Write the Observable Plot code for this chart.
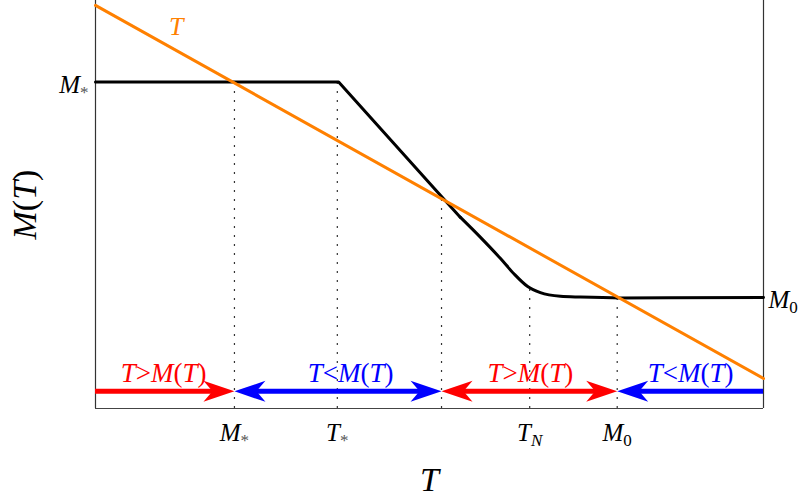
<!DOCTYPE html>
<html>
<head>
<meta charset="utf-8">
<script src="https://cdn.jsdelivr.net/npm/d3@7"></script>
<script src="https://cdn.jsdelivr.net/npm/@observablehq/plot@0.6"></script>
<style>
  body { margin: 0; background: white; }
</style>
</head>
<body>
<div id="chart"></div>
<script>
// ---- data (schematic units) ----
const keyX      = [2.08, 3.62, 5.18, 6.50, 7.81];      // M*, T*, crossing, T_N, M0
const keyLabels = ["M_*", "T_*", "", "T_N", "M_0"];
const keyTop    = [8.00, 8.00, 5.14, 3.00, 2.72];       // where each dotted guide stops

const curveX = [0, 3.64, 5.19, 5.46, 5.76, 6.06, 6.26, 6.47, 6.66, 6.96, 7.26, 7.86, 10];
const curveY = [8.00, 8.00, 5.18, 4.69, 4.20, 3.68, 3.31, 2.99, 2.84, 2.75, 2.73, 2.71, 2.72];

const lineX = [0, 10];           // the orange "T" line
const lineY = [9.88, 0.735];

const arrowY = 0.42;
const segStart = [0, 2.08, 5.18, 7.81];
const segEnd   = [2.08, 5.18, 7.81, 10];
const segKind  = ["gt", "lt", "gt", "lt"];
const segText  = ["T>M(T)", "T<M(T)", "T>M(T)", "T<M(T)"];
const segLabelX = [1.02, 3.82, 6.51, 8.91];

const headX   = [2.08, 2.08, 5.18, 5.18, 7.81, 7.81];
const headDir = [0, 180, 0, 180, 0, 180];
const headKind = ["gt", "lt", "lt", "gt", "gt", "lt"];

const levelLabels = [{x: 0, y: 8.00, t: "M_*", side: "left"}, {x: 10, y: 2.72, t: "M_0", side: "right"}];
const lineLabel = {x: 1.21, y: 9.34, t: "T"};

// ---- derived tables ----
const keys = keyX.map((x, i) => ({x, top: keyTop[i], label: keyLabels[i]}));
const curve = curveX.map((x, i) => ({x, y: curveY[i]}));
const tline = lineX.map((x, i) => ({x, y: lineY[i]}));
const segs = segStart.map((x1, i) => ({x1, x2: segEnd[i], y: arrowY, kind: segKind[i], text: segText[i], lx: segLabelX[i]}));
const heads = headX.map((x, i) => ({x, y: arrowY, dir: headDir[i], kind: headKind[i]}));

const colorOf = k => k === "gt" ? "#ff0000" : "#0000ff";
const serif = "'Liberation Serif', 'Times New Roman', serif";

const arrowHead = {
  draw(ctx) {
    ctx.moveTo(0, 0);
    ctx.lineTo(-31, -10.5);
    ctx.lineTo(-22, 0);
    ctx.lineTo(-31, 10.5);
    ctx.closePath();
  }
};

const seg = i => Plot.ruleY([segs[i]], {
  y: "y", x1: "x1", x2: "x2", stroke: colorOf(segs[i].kind), strokeWidth: 5,
  insetLeft: i === 0 ? 0 : 20, insetRight: i === 3 ? 0 : 20
});

const chart = Plot.plot({
  width: 802,
  height: 499,
  marginLeft: 95,
  marginRight: 39,
  marginTop: 0,
  marginBottom: 91,
  x: {domain: [0, 10], axis: null},
  y: {domain: [0, 10], axis: null},
  style: {fontFamily: serif, background: "white", overflow: "visible"},
  marks: [
    // frame (left, right, bottom)
    Plot.ruleX([0, 10], {stroke: "#333", strokeWidth: 1.2}),
    Plot.ruleY([0], {stroke: "#444", strokeWidth: 1.2}),
    // dotted guides
    Plot.ruleX(keys, {x: "x", y1: 0, y2: "top", stroke: "#333", strokeWidth: 1.2, strokeDasharray: "2,7"}),
    // M(T) curve: straight part + smooth bend
    Plot.line(curve.slice(0, 4), {x: "x", y: "y", stroke: "black", strokeWidth: 3}),
    Plot.line(curve.slice(3), {x: "x", y: "y", stroke: "black", strokeWidth: 3, curve: "monotone-x"}),
    // T line
    Plot.line(tline, {x: "x", y: "y", stroke: "#ff8000", strokeWidth: 3}),
    // arrows
    seg(0), seg(1), seg(2), seg(3),
    Plot.dot(heads, {x: "x", y: "y", r: 1, symbol: arrowHead, rotate: "dir",
      fill: d => colorOf(d.kind), stroke: "none"}),
    // arrow labels
    Plot.text(segs, {x: "lx", y: "y", text: "text", dy: -9, lineAnchor: "bottom", fontSize: 27,
      fontStyle: "italic", fill: d => colorOf(d.kind)}),
    // x tick labels
    Plot.text(keys.filter(d => d.label), {x: "x", y: 0, text: "label", dy: 32, lineAnchor: "bottom",
      fontSize: 25, fontStyle: "italic", fill: "black"}),
    // level labels
    Plot.text(levelLabels.filter(d => d.side === "left"), {x: "x", y: "y", text: "t", dx: -7, dy: 11,
      lineAnchor: "bottom", textAnchor: "end", fontSize: 25, fontStyle: "italic", fill: "black"}),
    Plot.text(levelLabels.filter(d => d.side === "right"), {x: "x", y: "y", text: "t", dx: 5, dy: 10,
      lineAnchor: "bottom", textAnchor: "start", fontSize: 25, fontStyle: "italic", fill: "black"}),
    // orange T label
    Plot.text([lineLabel], {x: "x", y: "y", text: "t", dy: 8, lineAnchor: "bottom", fontSize: 26,
      fontStyle: "italic", fill: "#ff8000"}),
    // axis titles
    Plot.text(["M(T)"], {frameAnchor: "left", dx: -70, rotate: -90, textAnchor: "middle", lineAnchor: "middle",
      fontSize: 34, fontStyle: "italic", fill: "black"}),
    Plot.text(["T"], {frameAnchor: "bottom", dy: 82, textAnchor: "middle", lineAnchor: "bottom",
      fontSize: 34, fontStyle: "italic", fill: "black"})
  ]
});

// typographic touch: upright punctuation, subscripts
const NS = "http://www.w3.org/2000/svg";
chart.querySelectorAll("text").forEach(t => {
  const s = t.textContent;
  if (!s) return;
  while (t.firstChild) t.removeChild(t.firstChild);
  for (let i = 0; i < s.length; i++) {
    const ts = document.createElementNS(NS, "tspan");
    let ch = s[i];
    if (ch === "_") {
      ch = s[++i];
      ts.setAttribute("font-size", "68%");
      ts.setAttribute("dy", "0.3em");
      if (ch === "*") { ts.setAttribute("fill", "#555"); }
    }
    if (!/[A-Za-z]/.test(ch)) ts.setAttribute("font-style", "normal");
    ts.textContent = ch;
    t.appendChild(ts);
  }
});

document.getElementById("chart").appendChild(chart);
</script>
</body>
</html>
